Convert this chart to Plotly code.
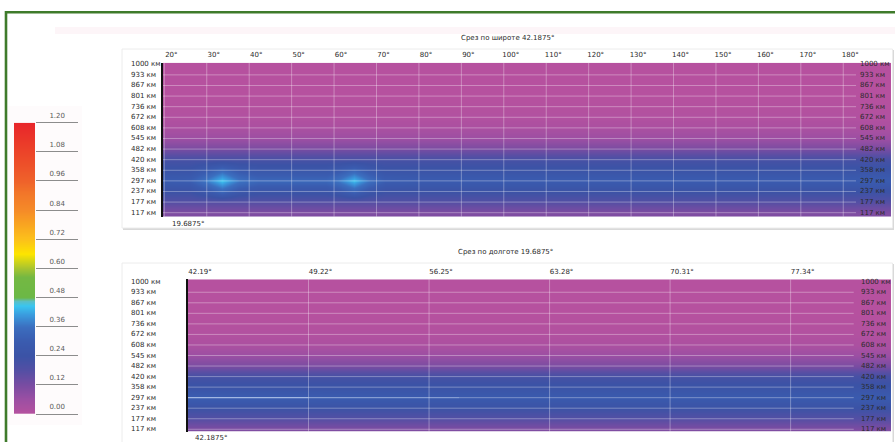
import plotly.graph_objects as go

W, H = 895, 442

# Altitude levels (bottom to top)
altitudes_km = [117, 177, 237, 297, 358, 420, 482, 545, 608, 672, 736, 801, 867, 933, 1000]

# Slice along latitude 42.1875°: columns are longitudes
lon_top = [19.6875, 26.0, 29.5, 33.5, 37.5, 42.0, 50.0, 58.0, 61.0, 64.7, 68.5, 72.0,
           80.0, 100.0, 130.0, 160.0, 191.25]
profile_top = [0.11, 0.18, 0.235, 0.30, 0.25, 0.21, 0.12, 0.06, 0.025, 0.01, 0.005,
               0.0, 0.0, 0.0, 0.0]
row237_top = [0.235, 0.235, 0.27, 0.33, 0.27, 0.25, 0.25, 0.25, 0.27, 0.32, 0.26,
              0.235, 0.235, 0.235, 0.235, 0.235, 0.235]
row297_top = [0.30, 0.31, 0.37, 0.445, 0.37, 0.34, 0.34, 0.34, 0.37, 0.44, 0.36,
              0.31, 0.30, 0.30, 0.30, 0.30, 0.30]
row358_top = [0.25, 0.25, 0.29, 0.35, 0.29, 0.27, 0.27, 0.27, 0.29, 0.34, 0.28,
              0.25, 0.25, 0.25, 0.25, 0.25, 0.25]
lon_ticks = [20, 30, 40, 50, 60, 70, 80, 90, 100, 110, 120, 130, 140, 150, 160, 170, 180]

# Slice along longitude 19.6875°: columns are latitudes
lat_bottom = [42.1875, 46.0, 50.0, 56.0, 63.0, 70.0, 77.0, 83.2]
profile_bottom = [0.11, 0.18, 0.235, 0.29, 0.25, 0.21, 0.12, 0.06, 0.025, 0.01, 0.005,
                  0.0, 0.0, 0.0, 0.0]
row297_bottom = [0.31, 0.305, 0.30, 0.29, 0.29, 0.29, 0.29, 0.29]
lat_ticks = [42.1875, 49.21875, 56.25, 63.28125, 70.3125, 77.34375]
lat_tick_text = ["42.19°", "49.22°", "56.25°", "63.28°", "70.31°", "77.34°"]

# Thin bright layer at 297 km near the start of the latitude slice
streak_lat_strong = [42.1875, 49.2]
streak_lat_faint = [49.2, 58.0]

# Colour scale ticks
scale_ticks = [0.0, 0.12, 0.24, 0.36, 0.48, 0.60, 0.72, 0.84, 0.96, 1.08, 1.20]
ZMAX = 1.2

colorscale = [
    [0.000, "#b6519f"],
    [0.050, "#9c4fa3"],
    [0.100, "#794ca2"],
    [0.150, "#544fa4"],
    [0.200, "#3b53a6"],
    [0.250, "#3a5cb0"],
    [0.300, "#3b6fc0"],
    [0.340, "#3a9ade"],
    [0.372, "#3ac6f0"],
    [0.388, "#5cbfc4"],
    [0.400, "#6cb845"],
    [0.470, "#74b843"],
    [0.500, "#a7c431"],
    [0.550, "#fde500"],
    [0.600, "#fcc11b"],
    [0.650, "#f9a621"],
    [0.700, "#f58b28"],
    [0.760, "#f27629"],
    [0.800, "#ef622a"],
    [0.900, "#ec4429"],
    [1.000, "#e8262a"],
]

FONT = "DejaVu Sans, Liberation Sans, Arial"
TXT = "#2b2b2b"


def px_x(p):
    return p / W


def px_y(p):
    return 1 - p / H


rows = list(range(len(altitudes_km)))
i237, i297, i358 = altitudes_km.index(237), altitudes_km.index(297), altitudes_km.index(358)

z_top = []
for i in rows:
    if i == i237:
        z_top.append(row237_top)
    elif i == i297:
        z_top.append(row297_top)
    elif i == i358:
        z_top.append(row358_top)
    else:
        z_top.append([profile_top[i]] * len(lon_top))

z_bottom = []
for i in rows:
    if i == i297:
        z_bottom.append(row297_bottom)
    else:
        z_bottom.append([profile_bottom[i]] * len(lat_bottom))

fig = go.Figure()

fig.add_trace(go.Heatmap(
    x=lon_top, y=rows, z=z_top, zsmooth="best", colorscale=colorscale,
    zmin=0, zmax=ZMAX, showscale=False, hoverinfo="skip", xaxis="x", yaxis="y"))

fig.add_trace(go.Heatmap(
    x=lat_bottom, y=rows, z=z_bottom, zsmooth="best", colorscale=colorscale,
    zmin=0, zmax=ZMAX, showscale=False, hoverinfo="skip", xaxis="x2", yaxis="y2"))

fig.add_trace(go.Scatter(
    x=streak_lat_strong, y=[i297] * 2, mode="lines", hoverinfo="skip",
    line=dict(color="rgba(185,212,250,0.55)", width=1.2), xaxis="x2", yaxis="y2"))
fig.add_trace(go.Scatter(
    x=streak_lat_faint, y=[i297] * 2, mode="lines", hoverinfo="skip",
    line=dict(color="rgba(185,212,250,0.25)", width=1.2), xaxis="x2", yaxis="y2"))

# Colour scale bar as its own small subplot
fig.add_trace(go.Heatmap(
    x=[0, 1], y=[0, ZMAX], z=[[0, 0], [ZMAX, ZMAX]], zsmooth="best",
    colorscale=colorscale, zmin=0, zmax=ZMAX, showscale=False, hoverinfo="skip",
    xaxis="x3", yaxis="y3"))

shapes = []
# outer green frame
shapes.append(dict(type="rect", xref="paper", yref="paper", x0=px_x(6), x1=1.05,
                   y0=-0.05, y1=px_y(12.3), line=dict(color="#3f7b2b", width=2.6),
                   layer="above"))
# faint band under the frame
shapes.append(dict(type="rect", xref="paper", yref="paper", x0=px_x(55), x1=1.0,
                   y0=px_y(34), y1=px_y(27), fillcolor="#fdf5f8", line=dict(width=0),
                   layer="below"))
# colour bar backdrop
shapes.append(dict(type="rect", xref="paper", yref="paper", x0=px_x(8), x1=px_x(82),
                   y0=px_y(425), y1=px_y(106), fillcolor="#fefbfc", line=dict(width=0),
                   layer="below"))
# cards behind the two sections
for top, bottom in [(49, 228), (263, 452)]:
    shapes.append(dict(type="rect", xref="paper", yref="paper", x0=px_x(123), x1=px_x(894),
                       y0=px_y(bottom + 2), y1=px_y(top + 1), fillcolor="#d9d9d9",
                       line=dict(width=0), layer="below"))
    shapes.append(dict(type="rect", xref="paper", yref="paper", x0=px_x(122), x1=px_x(892.5),
                       y0=px_y(bottom), y1=px_y(top), fillcolor="white",
                       line=dict(color="#ececec", width=1), layer="below"))

GRID = dict(color="rgba(255,255,255,0.33)", width=1)
# grid over the heatmaps
for v in lon_ticks:
    shapes.append(dict(type="line", xref="x", yref="y domain", x0=v, x1=v, y0=0, y1=1,
                       line=GRID, layer="above"))
for v in lat_ticks[1:]:
    shapes.append(dict(type="line", xref="x2", yref="y2 domain", x0=v, x1=v, y0=0, y1=1,
                       line=GRID, layer="above"))
for i in rows[:-1]:
    shapes.append(dict(type="line", xref="x domain", yref="y", x0=0, x1=0.952, y0=i, y1=i,
                       line=GRID, layer="above"))
    shapes.append(dict(type="line", xref="x2 domain", yref="y2", x0=0, x1=0.947, y0=i, y1=i,
                       line=GRID, layer="above"))

annotations = []
labels = [f"{a} км" for a in altitudes_km]
for i, lab in zip(rows, labels):
    for yref, xl, xr in [("y", 129, 858), ("y2", 129, 859)]:
        annotations.append(dict(text=lab, xref="paper", yref=yref, x=px_x(xl), y=i,
                                xanchor="left", yanchor="middle", showarrow=False,
                                font=dict(family=FONT, size=7, color=TXT)))
        annotations.append(dict(text=lab, xref="paper", yref=yref, x=px_x(xr), y=i,
                                xanchor="left", yanchor="middle", showarrow=False,
                                font=dict(family=FONT, size=7, color=TXT)))

annotations.append(dict(text="Срез по широте 42.1875°", xref="paper", yref="paper",
                        x=px_x(507.5), y=px_y(37.5), xanchor="center", yanchor="middle",
                        showarrow=False, font=dict(family=FONT, size=7, color=TXT)))
annotations.append(dict(text="Срез по долготе 19.6875°", xref="paper", yref="paper",
                        x=px_x(506), y=px_y(252), xanchor="center", yanchor="middle",
                        showarrow=False, font=dict(family=FONT, size=7, color=TXT)))
annotations.append(dict(text=f"{lon_top[0]}°", xref="x", yref="y domain", x=lon_top[0],
                        y=0, xanchor="left", yanchor="top", xshift=7, yshift=-1,
                        showarrow=False, font=dict(family=FONT, size=7, color=TXT)))
annotations.append(dict(text=f"{lat_bottom[0]}°", xref="x2", yref="y2 domain",
                        x=lat_bottom[0], y=0, xanchor="left", yanchor="top", xshift=5,
                        yshift=0, showarrow=False, font=dict(family=FONT, size=7, color=TXT)))

tickfont = dict(family=FONT, size=7, color=TXT)

fig.update_layout(
    width=W, height=H, autosize=False,
    margin=dict(l=0, r=0, t=0, b=0, pad=0, autoexpand=False),
    paper_bgcolor="white", plot_bgcolor="rgba(0,0,0,0)",
    showlegend=False,
    shapes=shapes, annotations=annotations,
    xaxis=dict(domain=[px_x(163), px_x(891)], range=[lon_top[0], lon_top[-1]],
               side="top", anchor="y", tickvals=lon_ticks,
               ticktext=[f"{t}°" for t in lon_ticks], ticks="", showgrid=False,
               zeroline=False, showline=False, tickfont=tickfont, automargin=False,
               ticklabelshift=7, ticklabelstandoff=3),
    yaxis=dict(domain=[px_y(216.7), px_y(62.7)], range=[-0.38, 14.15], anchor="x",
               showticklabels=False, ticks="", showgrid=False, zeroline=False,
               showline=True, linecolor="#111111", linewidth=2, automargin=False),
    xaxis2=dict(domain=[px_x(188), px_x(891)], range=[lat_bottom[0], lat_bottom[-1]],
                side="top", anchor="y2", tickvals=lat_ticks, ticktext=lat_tick_text,
                ticks="", showgrid=False, zeroline=False, showline=False,
                tickfont=tickfont, ticklabelshift=12, ticklabelstandoff=3,
                automargin=False),
    yaxis2=dict(domain=[px_y(431.7), px_y(279.3)], range=[-0.23, 14.23], anchor="x2",
                showticklabels=False, ticks="", showgrid=False, zeroline=False,
                showline=True, linecolor="#111111", linewidth=2, automargin=False),
    xaxis3=dict(domain=[px_x(14), px_x(35)], range=[0, 1], anchor="y3", visible=False,
                automargin=False),
    yaxis3=dict(domain=[px_y(414), px_y(122.7)], range=[0, ZMAX], anchor="x3",
                side="right", tickvals=scale_ticks,
                ticktext=[f"{t:.2f}" for t in scale_ticks], ticks="outside",
                ticklen=42, tickwidth=1, tickcolor="#8c8c8c", showgrid=False,
                zeroline=False, showline=False, automargin=False,
                tickfont=dict(family=FONT, size=7, color="#5a5a5a"),
                ticklabelstandoff=-30, ticklabelshift=-7),
)

fig.write_html("out.html")
